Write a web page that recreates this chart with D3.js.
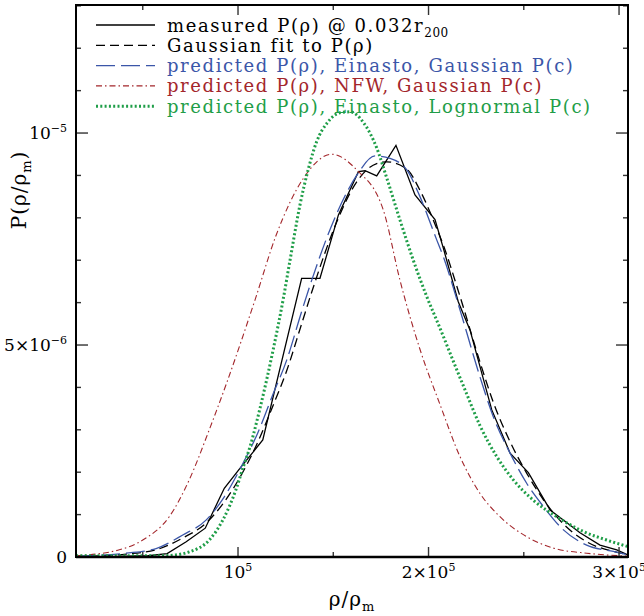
<!DOCTYPE html>
<html>
<head>
<meta charset="utf-8">
<script src="https://cdn.jsdelivr.net/npm/d3@7"></script>
<style>
  body { margin: 0; background: #fff; }
  svg text { font-family: "DejaVu Serif", serif; }
</style>
</head>
<body>
<div class="main"></div>
<script>
// valores: x em unidades de 1e5 (rho/rho_m), y em unidades de 1e-6
var measured = [[0.15,0.0],[0.228,0.0],[0.328,0.01],[0.428,0.02],[0.528,0.03],[0.628,0.08],[0.728,0.36],
  [0.828,0.68],[0.928,1.62],[1.01,2.09],[1.13,2.76],[1.334,6.57],[1.43,6.57],[1.527,8.07],[1.632,9.09],
  [1.667,9.11],[1.728,8.99],[1.829,9.71],[1.929,8.54],[2.034,7.96],[2.078,7.28],[2.156,6.02],[2.218,5.35],
  [2.332,3.47],[2.428,2.45],[2.524,1.99],[2.638,1.11],[2.728,0.8],[2.795,0.57],[2.9,0.28],[2.988,0.17],[3.047,0.05]];

var gaussFit = [[0.15,0.01],[0.412,0.07],[0.57,0.17],[0.71,0.45],[0.832,0.8],[0.928,1.3],[1.025,2.0],
  [1.103,2.7],[1.182,3.55],[1.256,4.4],[1.334,5.5],[1.387,6.25],[1.518,7.9],[1.623,8.85],[1.728,9.28],
  [1.78,9.32],[1.886,9.15],[1.955,8.65],[2.043,7.75],[2.078,7.35],[2.165,6.15],[2.27,4.6],[2.34,3.65],
  [2.428,2.72],[2.515,1.98],[2.603,1.35],[2.708,0.78],[2.83,0.36],[2.97,0.13],[3.047,0.06]];

var einastoGauss = [[0.15,0.02],[0.412,0.09],[0.57,0.2],[0.71,0.52],[0.832,0.87],[0.928,1.42],[1.025,2.2],
  [1.103,2.92],[1.182,3.82],[1.256,4.65],[1.334,5.79],[1.387,6.53],[1.518,8.1],[1.623,9.0],[1.719,9.46],
  [1.798,9.4],[1.886,9.13],[1.955,8.5],[2.043,7.48],[2.078,7.08],[2.165,5.83],[2.27,4.25],[2.34,3.31],
  [2.428,2.45],[2.515,1.74],[2.603,1.19],[2.708,0.64],[2.83,0.28],[2.97,0.13],[3.047,0.05]];

var nfwGauss = [[0.15,0.03],[0.377,0.17],[0.5,0.4],[0.639,0.95],[0.744,1.82],[0.849,3.0],[0.94,4.1],
  [1.089,6.06],[1.2,7.59],[1.343,8.93],[1.492,9.5],[1.623,9.13],[1.763,8.18],[1.85,6.53],[1.955,4.9],
  [2.06,3.6],[2.165,2.37],[2.27,1.5],[2.375,0.95],[2.515,0.48],[2.655,0.21],[2.83,0.09],[3.047,0.02]];

var einastoLognorm = [[0.15,0.03],[0.6,0.03],[0.674,0.05],[0.744,0.12],[0.849,0.4],[0.92,0.87],[0.99,1.6],
  [1.025,2.09],[1.063,2.6],[1.115,3.5],[1.185,4.9],[1.238,6.1],[1.273,7.0],[1.325,8.3],[1.369,9.15],
  [1.413,9.8],[1.47,10.25],[1.535,10.48],[1.59,10.5],[1.658,10.25],[1.728,9.65],[1.78,8.95],[1.85,7.95],
  [1.92,7.0],[1.99,6.15],[2.06,5.4],[2.13,4.62],[2.2,3.85],[2.27,3.1],[2.358,2.37],[2.445,1.82],
  [2.55,1.34],[2.673,0.95],[2.813,0.6],[2.935,0.4],[3.052,0.24]];

var xMajor = [1, 2, 3], xMinor = [0.5, 1.5, 2.5];
var xTickLabels = [["10","5"], ["2×10","5"], ["3×10","5"]];
var yMajor = [0, 5, 10], yMinor = [1,2,3,4,6,7,8,9,11,12,13];
var yTickLabels = [["0",""], ["5×10","−6"], ["10","−5"]];

var legendLabels = ["measured P(ρ) @ 0.032r", "Gaussian fit to P(ρ)", "predicted P(ρ), Einasto, Gaussian P(c)",
  "predicted P(ρ), NFW, Gaussian P(c)", "predicted P(ρ), Einasto, Lognormal P(c)"];

// dimensoes (nomes evitam window.top)
var W = 644, H = 616;
var pL = 76, pR = 628, pT = 5, pB = 557;

var svg = d3.select('.main').append('svg').attr('width', W).attr('height', H);

var x = d3.scaleLinear().domain([0.1496, 3.047]).range([pL, pR]);
var y = d3.scaleLinear().domain([0, 13.02]).range([pB, pT]);

var series = [
  {data: measured, color: '#000', width: 1.3, dash: null, curve: d3.curveLinear},
  {data: gaussFit, color: '#000', width: 1.3, dash: '9,5', curve: d3.curveMonotoneX},
  {data: einastoGauss, color: '#3b56a8', width: 1.3, dash: '19,6', curve: d3.curveMonotoneX},
  {data: nfwGauss, color: '#a3262b', width: 1.1, dash: '6,3,1.5,3', curve: d3.curveMonotoneX},
  {data: einastoLognorm, color: '#1f9e48', width: 3, dash: '2,2.3', curve: d3.curveMonotoneX}
];

svg.append('clipPath').attr('id', 'clip').append('rect')
  .attr('x', pL).attr('y', pT).attr('width', pR - pL).attr('height', pB - pT);

var plot = svg.append('g').attr('clip-path', 'url(#clip)');
series.forEach(function(s) {
  var line = d3.line().x(d => x(d[0])).y(d => y(d[1])).curve(s.curve);
  plot.append('path').datum(s.data)
    .attr('d', line)
    .attr('fill', 'none')
    .attr('stroke', s.color)
    .attr('stroke-width', s.width)
    .attr('stroke-dasharray', s.dash);
});

// ticks
var ticks = svg.append('g').attr('stroke', '#333').attr('stroke-width', 1.4);
xMajor.concat(xMinor).forEach(function(v) {
  var len = xMajor.indexOf(v) >= 0 ? 10 : 5;
  ticks.append('line').attr('x1', x(v)).attr('x2', x(v)).attr('y1', pB).attr('y2', pB - len);
  ticks.append('line').attr('x1', x(v)).attr('x2', x(v)).attr('y1', pT).attr('y2', pT + len);
});
yMajor.concat(yMinor).forEach(function(v) {
  var len = yMajor.indexOf(v) >= 0 ? 12 : 5;
  ticks.append('line').attr('y1', y(v)).attr('y2', y(v)).attr('x1', pL).attr('x2', pL + len);
  ticks.append('line').attr('y1', y(v)).attr('y2', y(v)).attr('x1', pR).attr('x2', pR - len);
});

// moldura
svg.append('rect').attr('x', pL).attr('y', pT).attr('width', pR - pL).attr('height', pB - pT)
  .attr('fill', 'none').attr('stroke', '#000').attr('stroke-width', 2);
svg.append('line').attr('x1', pL).attr('x2', pR).attr('y1', pB).attr('y2', pB)
  .attr('stroke', '#000').attr('stroke-width', 2.6);

// rotulos dos ticks
xMajor.forEach(function(v, i) {
  var t = svg.append('text').attr('x', x(v)).attr('y', 578).attr('text-anchor', 'middle')
    .attr('font-size', 17);
  t.append('tspan').text(xTickLabels[i][0]);
  t.append('tspan').attr('dy', -7).attr('font-size', 11).text(xTickLabels[i][1]);
});
yMajor.forEach(function(v, i) {
  var t = svg.append('text').attr('x', 67).attr('y', y(v) + 6).attr('text-anchor', 'end')
    .attr('font-size', 17);
  t.append('tspan').text(yTickLabels[i][0]);
  if (yTickLabels[i][1]) t.append('tspan').attr('dy', -7).attr('font-size', 11).text(yTickLabels[i][1]);
});

// titulos dos eixos
var xt = svg.append('text').attr('x', 352).attr('y', 606).attr('text-anchor', 'middle')
  .attr('font-size', 20).attr('letter-spacing', 1);
xt.append('tspan').text('ρ/ρ');
xt.append('tspan').attr('dy', 5).attr('font-size', 13).text('m');

var yt = svg.append('text').attr('transform', 'translate(26,190) rotate(-90)')
  .attr('text-anchor', 'middle').attr('font-size', 20).attr('letter-spacing', 1);
yt.append('tspan').text('P(ρ/ρ');
yt.append('tspan').attr('dy', 5).attr('font-size', 13).text('m');
yt.append('tspan').attr('dy', -5).text(')');

// legenda
var legend = svg.append('g');
series.forEach(function(s, i) {
  var cy = 25 + i * 20.3;
  legend.append('line').attr('x1', 96).attr('x2', 155).attr('y1', cy).attr('y2', cy)
    .attr('stroke', s.color).attr('stroke-width', s.width).attr('stroke-dasharray', s.dash);
  var t = legend.append('text').attr('x', 167).attr('y', cy + 6.5).attr('font-size', 18)
    .attr('letter-spacing', 1.6).attr('fill', i < 2 ? '#000' : s.color);
  t.append('tspan').text(legendLabels[i]);
  if (i == 0) t.append('tspan').attr('dy', 5).attr('font-size', 12).attr('letter-spacing', 0.5).text('200');
});
</script>
</body>
</html>
